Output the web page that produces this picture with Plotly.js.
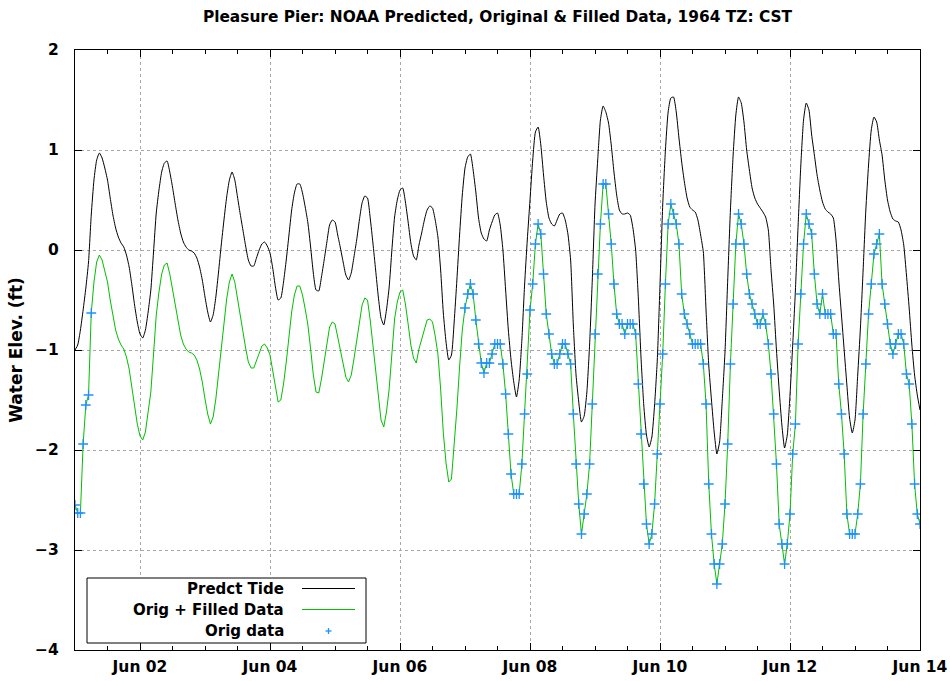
<!DOCTYPE html>
<html>
<head>
<meta charset="utf-8">
<script src="https://cdn.plot.ly/plotly-3.0.1.min.js"></script>
<style>
  html, body { margin: 0; padding: 0; background: #fff; }
  #chart { width: 950px; height: 681px; }
</style>
</head>
<body>
<div id="chart"></div>
<script>
// ---------------- DATA (hourly, hours counted from 1964-06-01 00:00 CST) ----------------
const startDate = [1964, 5, 1];          // June 1, 1964
const predStartHour = 0;                 // NOAA predicted tide, hourly from hour 0
const predTide = [
  -1.0,-0.95,-0.8,-0.6,-0.38,-0.12,0.35,0.7,0.9,0.97,0.92,0.82,0.7,0.52,0.35,0.22,0.13,0.07,0.03,-0.05,-0.17,-0.35,-0.55,-0.72,
  -0.84,-0.88,-0.8,-0.62,-0.4,-0.02,0.37,0.6,0.78,0.87,0.89,0.78,0.63,0.46,0.3,0.17,0.08,0.03,0.0,-0.01,-0.03,-0.08,-0.17,-0.3,
  -0.47,-0.62,-0.72,-0.65,-0.47,-0.22,0.05,0.3,0.53,0.7,0.78,0.7,0.53,0.36,0.2,0.04,-0.1,-0.16,-0.16,-0.08,0.0,0.06,0.08,0.04,
  -0.03,-0.18,-0.37,-0.5,-0.48,-0.32,-0.1,0.15,0.4,0.57,0.66,0.66,0.57,0.43,0.27,0.03,-0.23,-0.4,-0.41,-0.27,-0.1,0.08,0.25,0.3,
  0.28,0.15,0.02,-0.12,-0.25,-0.3,-0.23,-0.07,0.1,0.3,0.47,0.54,0.52,0.32,0.07,-0.2,-0.47,-0.68,-0.75,-0.6,-0.37,0.0,0.33,0.5,
  0.6,0.62,0.48,0.28,0.07,-0.06,-0.1,0.05,0.17,0.3,0.4,0.44,0.42,0.3,0.13,-0.2,-0.63,-0.92,-1.1,-1.05,-0.72,-0.3,0.15,0.55,
  0.82,0.93,0.96,0.8,0.58,0.32,0.17,0.11,0.09,0.2,0.28,0.35,0.37,0.25,0.0,-0.4,-0.8,-1.1,-1.32,-1.47,-1.3,-0.9,-0.35,0.1,
  0.5,0.9,1.18,1.23,1.05,0.75,0.48,0.32,0.26,0.24,0.3,0.36,0.37,0.3,0.16,-0.1,-0.75,-1.25,-1.52,-1.72,-1.66,-1.42,-0.95,-0.3,
  0.45,0.9,1.3,1.44,1.38,1.27,1.05,0.78,0.55,0.4,0.36,0.36,0.37,0.35,0.22,0.0,-0.48,-1.08,-1.55,-1.85,-1.97,-1.87,-1.55,-1.1,
  -0.35,0.45,1.0,1.38,1.52,1.53,1.38,1.12,0.88,0.68,0.52,0.43,0.4,0.38,0.3,0.15,-0.02,-0.6,-1.15,-1.5,-1.82,-2.04,-1.92,-1.5,
  -1.02,-0.3,0.4,0.95,1.35,1.53,1.47,1.28,1.0,0.8,0.62,0.52,0.46,0.42,0.38,0.33,0.2,-0.2,-0.55,-1.0,-1.4,-1.75,-1.98,-1.85,
  -1.45,-0.95,-0.4,0.25,0.85,1.3,1.47,1.4,1.15,0.95,0.75,0.6,0.48,0.41,0.38,0.36,0.32,0.1,-0.3,-0.65,-1.0,-1.35,-1.68,-1.83,
  -1.7,-1.25,-0.78,-0.2,0.4,0.85,1.2,1.33,1.28,1.1,0.95,0.7,0.5,0.38,0.31,0.29,0.28,0.2,0.05,-0.25,-0.58,-0.95,-1.25,-1.45,
  -1.6
];

// original observations, first block (hours 0..6)
const origEarlyStartHour = 0;
const origEarly = [-2.55,-2.63,-2.63,-1.94,-1.55,-1.45,-0.63];

// filled values for the gap (hours 7..143)
const filledStartHour = 7;
const filledGap = [
  -0.32,-0.12,-0.05,-0.1,-0.2,-0.32,-0.5,-0.67,-0.8,-0.89,-0.95,-0.99,-1.07,-1.19,-1.37,-1.57,-1.74,
  -1.86,-1.9,-1.82,-1.64,-1.42,-1.04,-0.65,-0.42,-0.24,-0.15,-0.13,-0.24,-0.39,-0.56,-0.72,-0.85,-0.94,-0.99,-1.02,-1.03,-1.05,-1.1,-1.19,-1.32,
  -1.49,-1.64,-1.74,-1.67,-1.49,-1.24,-0.97,-0.72,-0.49,-0.32,-0.24,-0.32,-0.49,-0.66,-0.82,-0.98,-1.12,-1.18,-1.18,-1.1,-1.02,-0.96,-0.94,-0.98,
  -1.05,-1.2,-1.39,-1.52,-1.5,-1.34,-1.12,-0.87,-0.62,-0.45,-0.36,-0.36,-0.45,-0.59,-0.75,-0.99,-1.25,-1.42,-1.43,-1.29,-1.12,-0.94,-0.77,-0.72,
  -0.74,-0.87,-1.0,-1.14,-1.27,-1.32,-1.25,-1.09,-0.92,-0.72,-0.55,-0.48,-0.5,-0.7,-0.95,-1.22,-1.49,-1.7,-1.77,-1.62,-1.39,-1.02,-0.69,-0.52,
  -0.42,-0.4,-0.54,-0.74,-0.95,-1.08,-1.13,-0.99,-0.89,-0.78,-0.7,-0.69,-0.72,-0.86,-1.04,-1.39,-1.83,-2.13,-2.32,-2.29,-1.98,-1.59,-1.17,-0.8
];

// original observations, second block (hours 144..312)
const origLateStartHour = 144;
const origLate = [
  -0.58,-0.44,-0.34,-0.44,-0.7,-0.94,-1.13,-1.23,-1.13,-1.13,-1.04,-0.94,-0.94,-0.94,-1.14,-1.44,-1.84,-2.24,-2.44,-2.44,-2.44,-2.14,-1.64,-1.24,
  -0.6,-0.34,0.06,0.26,0.16,-0.24,-0.64,-0.84,-1.04,-1.14,-1.14,-1.04,-0.94,-0.94,-1.04,-1.14,-1.64,-2.14,-2.54,-2.84,-2.64,-2.44,-2.14,-1.54,
  -0.84,-0.24,0.26,0.66,0.66,0.36,0.06,-0.34,-0.64,-0.74,-0.74,-0.84,-0.74,-0.74,-0.74,-0.84,-1.34,-1.84,-2.34,-2.74,-2.94,-2.84,-2.54,-2.04,
  -1.54,-1.04,-0.34,0.26,0.46,0.36,0.26,0.06,-0.44,-0.64,-0.74,-0.84,-0.94,-0.94,-0.94,-0.94,-1.14,-1.54,-2.34,-2.84,-3.14,-3.34,-3.14,-2.94,
  -2.54,-1.94,-1.14,-0.54,0.06,0.36,0.26,0.06,-0.24,-0.44,-0.54,-0.64,-0.74,-0.74,-0.64,-0.74,-0.94,-1.24,-1.64,-2.14,-2.74,-2.94,-3.14,-2.94,
  -2.64,-2.04,-1.74,-0.94,-0.44,0.06,0.36,0.26,0.16,-0.24,-0.54,-0.64,-0.44,-0.64,-0.64,-0.64,-0.84,-0.84,-1.34,-1.64,-2.04,-2.64,-2.84,-2.84,
  -2.84,-2.64,-2.34,-1.64,-1.14,-0.64,-0.34,-0.04,0.06,0.16,-0.34,-0.54,-0.74,-0.94,-1.04,-0.94,-0.84,-0.84,-0.94,-1.24,-1.34,-1.74,-2.34,-2.64,
  -2.74
];

const legendLabels = ["Predct Tide", "Orig + Filled Data", "Orig data"];
const titleText = "Pleasure Pier: NOAA Predicted, Original &amp; Filled Data, 1964 TZ: CST";
const yTitle = "Water Elev. (ft)";
const xRange = ["1964-06-01 00:00", "1964-06-14 00:00"];

// ---------------- helpers ----------------
const T0 = Date.UTC(startDate[0], startDate[1], startDate[2]);
function hourToDate(h) {
  return new Date(T0 + h * 3600000).toISOString().slice(0, 16).replace("T", " ");
}
function seriesX(startHour, arr) { return arr.map((_, i) => hourToDate(startHour + i)); }

const predX = seriesX(predStartHour, predTide);
const greenX = [].concat(seriesX(origEarlyStartHour, origEarly), seriesX(filledStartHour, filledGap), seriesX(origLateStartHour, origLate));
const greenY = [].concat(origEarly, filledGap, origLate);
const origX = [].concat(seriesX(origEarlyStartHour, origEarly), seriesX(origLateStartHour, origLate));
const origY = [].concat(origEarly, origLate);

const C_PRED = "#000000", C_GREEN = "#00c000", C_ORIG = "#1e90ff";
const FONT = "DejaVu Sans, Verdana, sans-serif";

const traces = [
  { x: predX, y: predTide, type: "scatter", mode: "lines", name: legendLabels[0],
    line: { color: C_PRED, width: 1, shape: "spline", smoothing: 0.5 } },
  { x: greenX, y: greenY, type: "scatter", mode: "lines", name: legendLabels[1],
    line: { color: C_GREEN, width: 1 } },
  { x: origX, y: origY, type: "scatter", mode: "markers", name: legendLabels[2],
    marker: { symbol: "cross-thin", size: 7, color: C_ORIG, line: { color: C_ORIG, width: 1.3 } } }
];

// ---------------- custom legend (text right-aligned, sample to the right) ----------------
const W = 950, H = 681, ML = 75, MR = 30, MT = 50, MB = 31;
const PW = W - ML - MR, PH = H - MT - MB;
const px = x => (x - ML) / PW;
const py = y => (H - MB - y) / PH;

const legBox = { x0: px(87), x1: px(366), y0: py(643), y1: py(578) };
const legRowsY = [588.5, 609.5, 631];
const legTextRight = px(286);
const sampleX0 = px(302), sampleX1 = px(355), plusX = 328.5;

const shapes = [
  { type: "rect", xref: "paper", yref: "paper", x0: legBox.x0, x1: legBox.x1, y0: legBox.y0, y1: legBox.y1,
    line: { color: "#000", width: 1 }, fillcolor: "#fff", layer: "above" },
  { type: "line", xref: "paper", yref: "paper", x0: sampleX0, x1: sampleX1, y0: py(legRowsY[0]), y1: py(legRowsY[0]),
    line: { color: C_PRED, width: 1 } },
  { type: "line", xref: "paper", yref: "paper", x0: sampleX0, x1: sampleX1, y0: py(legRowsY[1]), y1: py(legRowsY[1]),
    line: { color: C_GREEN, width: 1 } },
  { type: "line", xref: "paper", yref: "paper", x0: px(plusX - 3), x1: px(plusX + 3), y0: py(legRowsY[2]), y1: py(legRowsY[2]),
    line: { color: C_ORIG, width: 1.3 } },
  { type: "line", xref: "paper", yref: "paper", x0: px(plusX), x1: px(plusX), y0: py(legRowsY[2] - 3), y1: py(legRowsY[2] + 3),
    line: { color: C_ORIG, width: 1.3 } }
];

const annotations = legendLabels.map((t, i) => ({
  text: t, xref: "paper", yref: "paper", x: legTextRight, y: py(legRowsY[i]),
  xanchor: "right", yanchor: "middle", showarrow: false,
  font: { family: FONT, size: 15, color: "#000", weight: "bold" }
}));

const axisCommon = {
  showline: true, linecolor: "#000", linewidth: 1, mirror: "allticks",
  ticks: "inside", ticklen: 7, tickwidth: 1, tickcolor: "#000",
  showgrid: true, gridcolor: "#a8a8a8", gridwidth: 1, griddash: "dot",
  zeroline: false,
  tickfont: { family: FONT, size: 15.5, color: "#000", weight: "bold" }
};

const layout = {
  width: W, height: H,
  margin: { l: ML, r: MR, t: MT, b: MB, pad: 0 },
  paper_bgcolor: "#fff", plot_bgcolor: "#fff",
  showlegend: false,
  title: { text: titleText, x: px(497.5), xref: "paper", xanchor: "center", y: 1 - 17 / H, yanchor: "middle",
           font: { family: FONT, size: 15.4, color: "#000", weight: "bold" } },
  xaxis: Object.assign({}, axisCommon, {
    type: "date", range: xRange, tick0: "1964-06-02", dtick: 2 * 86400000, tickformat: "%b %d",
    minor: { dtick: 12 * 3600000, ticks: "inside", ticklen: 4, tickcolor: "#000", showgrid: false },
    ticklabelstandoff: 2
  }),
  yaxis: Object.assign({}, axisCommon, {
    range: [-4, 2], dtick: 1, tick0: 0, ticklabelstandoff: 12,
    title: { text: yTitle, standoff: 8, font: { family: FONT, size: 17, color: "#000", weight: "bold" } },
    automargin: false
  }),
  shapes: shapes,
  annotations: annotations
};

Plotly.newPlot("chart", traces, layout, { displayModeBar: false, staticPlot: true });
</script>
</body>
</html>
